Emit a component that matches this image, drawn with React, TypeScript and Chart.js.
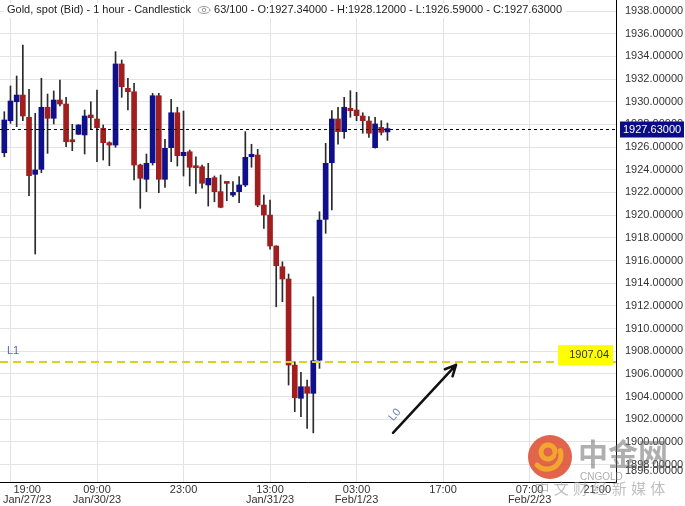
import React, { useEffect, useRef } from 'react';
import { Chart, registerables } from 'chart.js';

Chart.register(...registerables);

// ---- data ----
const openValues = [
  1925.50, 1928.33, 1930.00, 1930.59, 1928.63, 1923.60, 1924.04, 1929.51, 1928.54, 1930.15,
  1929.80, 1926.56, 1927.13, 1927.07, 1928.83, 1928.48, 1927.66, 1926.39, 1926.18, 1933.33,
  1931.18, 1930.88, 1924.42, 1923.16, 1924.62, 1930.53, 1923.16, 1925.95, 1929.03, 1925.24,
  1925.59, 1924.27, 1924.27, 1922.66, 1923.30, 1922.07, 1922.86, 1921.77, 1922.07, 1922.66,
  1925.15, 1925.30, 1920.89, 1920.01, 1917.28, 1915.45, 1914.37, 1906.78, 1903.85, 1904.87,
  1904.29, 1907.22, 1919.63, 1924.62, 1928.48, 1927.36, 1929.42, 1929.27, 1928.74, 1928.30,
  1925.95, 1927.74, 1927.34,
];
const highValues = [
  1929.12, 1931.39, 1932.27, 1935.00, 1931.10, 1928.98, 1932.07, 1930.68, 1930.95, 1931.92,
  1930.39, 1928.01, 1927.98, 1929.27, 1930.00, 1931.03, 1927.95, 1926.47, 1934.41, 1933.68,
  1932.07, 1931.62, 1924.50, 1925.39, 1930.74, 1930.74, 1926.69, 1930.21, 1929.51, 1929.18,
  1925.74, 1925.15, 1924.42, 1924.57, 1923.45, 1923.54, 1922.90, 1922.95, 1923.39, 1927.36,
  1926.25, 1925.80, 1921.77, 1921.33, 1917.30, 1915.89, 1914.81, 1907.07, 1906.14, 1905.46,
  1912.81, 1920.30, 1926.33, 1929.21, 1929.51, 1930.39, 1930.97, 1930.83, 1929.03, 1928.68,
  1928.63, 1928.33, 1928.12,
];
const lowValues = [
  1925.15, 1928.10, 1927.80, 1928.33, 1921.71, 1916.57, 1923.74, 1925.45, 1928.04, 1929.62,
  1926.03, 1925.68, 1927.10, 1925.39, 1927.57, 1924.71, 1924.86, 1924.36, 1925.98, 1930.39,
  1929.27, 1923.10, 1920.60, 1922.07, 1924.42, 1921.98, 1922.45, 1924.71, 1924.33, 1923.45,
  1922.57, 1921.92, 1922.37, 1920.80, 1921.18, 1920.65, 1921.27, 1921.63, 1921.10, 1922.51,
  1924.22, 1920.74, 1918.84, 1916.99, 1911.92, 1912.37, 1905.02, 1902.67, 1902.22, 1901.20,
  1900.80, 1906.49, 1918.40, 1920.45, 1926.25, 1926.77, 1928.63, 1928.33, 1927.22, 1926.86,
  1925.90, 1927.07, 1926.59,
];
const closeValues = [
  1928.39, 1930.06, 1930.59, 1928.74, 1923.48, 1923.98, 1929.51, 1928.54, 1930.15, 1929.80,
  1926.47, 1926.47, 1927.95, 1928.74, 1928.59, 1927.71, 1926.39, 1926.18, 1933.33, 1931.32,
  1930.88, 1924.42, 1923.25, 1924.57, 1930.53, 1923.16, 1925.89, 1929.03, 1925.24, 1925.54,
  1924.22, 1924.18, 1922.81, 1923.25, 1922.07, 1920.69, 1922.80, 1922.01, 1922.66, 1925.10,
  1925.36, 1920.89, 1920.01, 1917.28, 1915.54, 1914.37, 1906.78, 1903.90, 1904.87, 1904.29,
  1907.16, 1919.57, 1924.57, 1928.48, 1927.36, 1929.51, 1929.21, 1928.77, 1928.33, 1927.22,
  1928.04, 1927.30, 1927.63,
];

const xTickIndex = [1, 15, 29, 43, 57, 71, 85, 99];
const xTickTimes = ['19:00', '09:00', '23:00', '13:00', '03:00', '17:00', '07:00', '21:00'];
const xTickDates = ['Jan/27/23', 'Jan/30/23', '', 'Jan/31/23', 'Feb/1/23', '', 'Feb/2/23', ''];
const yTickValues = [
  1898, 1900, 1902, 1904, 1906, 1908, 1910, 1912, 1914, 1916, 1918,
  1920, 1922, 1924, 1926, 1928, 1930, 1932, 1934, 1936, 1938,
];
const extraBottomLabel = 1896;

const lastPrice = 1927.63;
const levelL1 = 1907.04;
const levelL1Text = '1907.04';
const arrowFrom = [62.9, 1900.8];
const arrowTo = [73.1, 1906.8];
const labelL0 = [63.2, 1902.4];

const X_MIN = -0.696;
const X_MAX = 98.98;
const Y_MIN = 1896.47;
const Y_MAX = 1938.97;

const FONT = '"Liberation Sans", Arial, sans-serif';
const UP = '#10108a';
const DOWN = '#a11e1e';

const overlayPlugin = {
  id: 'overlay',
  afterDraw(chart: any) {
    const { ctx, chartArea: ca } = chart;
    const x = chart.scales.x;
    const y = chart.scales.y;
    ctx.save();

    // last price dotted line
    const yp = Math.round(y.getPixelForValue(lastPrice)) + 0.5;
    ctx.strokeStyle = '#000';
    ctx.lineWidth = 1;
    ctx.setLineDash([3, 3]);
    ctx.beginPath();
    ctx.moveTo(ca.left, yp);
    ctx.lineTo(ca.right, yp);
    ctx.stroke();

    // L1 level line
    const yl = y.getPixelForValue(levelL1);
    ctx.strokeStyle = '#d8d226';
    ctx.lineWidth = 2;
    ctx.setLineDash([8, 5]);
    ctx.beginPath();
    ctx.moveTo(ca.left, yl);
    ctx.lineTo(ca.right, yl);
    ctx.stroke();
    ctx.setLineDash([]);

    // L1 label
    ctx.font = `11px ${FONT}`;
    ctx.fillStyle = '#4d6fa8';
    ctx.textAlign = 'left';
    ctx.textBaseline = 'middle';
    ctx.fillText('L1', 7, yl - 11);

    // yellow value tag
    ctx.fillStyle = '#ffff00';
    ctx.fillRect(ca.right - 58, yl - 17, 55, 20);
    ctx.fillStyle = '#333';
    ctx.textAlign = 'right';
    ctx.font = `11px ${FONT}`;
    ctx.fillText(levelL1Text, ca.right - 7, yl - 7);

    // arrow
    const ax0 = x.getPixelForValue(arrowFrom[0]);
    const ay0 = y.getPixelForValue(arrowFrom[1]);
    const ax1 = x.getPixelForValue(arrowTo[0]);
    const ay1 = y.getPixelForValue(arrowTo[1]);
    ctx.strokeStyle = '#111';
    ctx.lineWidth = 2.5;
    ctx.lineCap = 'round';
    ctx.beginPath();
    ctx.moveTo(ax0, ay0);
    ctx.lineTo(ax1, ay1);
    const ang = Math.atan2(ay1 - ay0, ax1 - ax0);
    const hl = 12;
    ctx.moveTo(ax1, ay1);
    ctx.lineTo(ax1 - hl * Math.cos(ang - 0.45), ay1 - hl * Math.sin(ang - 0.45));
    ctx.moveTo(ax1, ay1);
    ctx.lineTo(ax1 - hl * Math.cos(ang + 0.45), ay1 - hl * Math.sin(ang + 0.45));
    ctx.stroke();

    // L0 label (rotated)
    ctx.save();
    ctx.translate(x.getPixelForValue(labelL0[0]), y.getPixelForValue(labelL0[1]));
    ctx.rotate(-0.87);
    ctx.fillStyle = '#6a80b0';
    ctx.textAlign = 'center';
    ctx.font = `11px ${FONT}`;
    ctx.fillText('L0', 0, 0);
    ctx.restore();

    // price tag on the axis
    ctx.fillStyle = '#0b0b88';
    ctx.fillRect(ca.right + 4, yp - 8, 64, 16);
    ctx.fillStyle = '#fff';
    ctx.textAlign = 'left';
    ctx.font = `11px ${FONT}`;
    ctx.fillText(lastPrice.toFixed(5), ca.right + 7, yp);

    // extra clamped bottom axis label
    ctx.fillStyle = '#333';
    ctx.fillText(extraBottomLabel.toFixed(5), ca.right + 9, ca.bottom - 11);

    // x axis labels (clamped to the plot area)
    ctx.font = `11px ${FONT}`;
    ctx.fillStyle = '#333';
    ctx.textAlign = 'center';
    xTickIndex.forEach((idx, i) => {
      const px = x.getPixelForValue(idx);
      const w = Math.max(ctx.measureText(xTickTimes[i]).width, ctx.measureText(xTickDates[i]).width);
      const cx = Math.min(Math.max(px, 3 + w / 2), ca.right - 5 - w / 2);
      ctx.fillText(xTickTimes[i], cx, ca.bottom + 8);
      if (xTickDates[i]) ctx.fillText(xTickDates[i], cx, ca.bottom + 18);
    });

    // header
    const n = openValues.length - 1;
    const part1 = 'Gold, spot (Bid) - 1 hour - Candlestick';
    const part2 = `${openValues.length}/100 - O:${openValues[n].toFixed(5)} - H:${highValues[n].toFixed(5)} - L:${lowValues[n].toFixed(5)} - C:${closeValues[n].toFixed(5)}`;
    ctx.font = `11px ${FONT}`;
    ctx.textAlign = 'left';
    const w1 = ctx.measureText(part1).width;
    const w2 = ctx.measureText(part2).width;
    ctx.fillStyle = '#fff';
    ctx.fillRect(4, 3, w1 + w2 + 30, 15);
    ctx.fillStyle = '#222';
    ctx.fillText(part1, 7, 10);
    const ex = 7 + w1 + 13;
    ctx.strokeStyle = '#9a9a9a';
    ctx.lineWidth = 1;
    ctx.beginPath();
    ctx.ellipse(ex, 10, 6, 3.5, 0, 0, Math.PI * 2);
    ctx.stroke();
    ctx.beginPath();
    ctx.arc(ex, 10, 1.8, 0, Math.PI * 2);
    ctx.stroke();
    ctx.fillStyle = '#222';
    ctx.fillText(part2, ex + 10, 10);

    // watermark
    ctx.globalAlpha = 0.85;
    ctx.fillStyle = '#dc4a2c';
    ctx.beginPath();
    ctx.arc(550, 457, 22, 0, Math.PI * 2);
    ctx.fill();
    ctx.strokeStyle = '#f7b32b';
    ctx.lineWidth = 5;
    ctx.beginPath();
    ctx.arc(548, 452, 7, 0.2 * Math.PI, 2.0 * Math.PI);
    ctx.stroke();
    ctx.beginPath();
    ctx.arc(547, 455, 14, -0.1 * Math.PI, 0.75 * Math.PI);
    ctx.stroke();
    ctx.globalAlpha = 1;
    ctx.fillStyle = 'rgba(110,110,110,0.55)';
    ctx.font = `bold 30px "Noto Sans CJK SC"`;
    ctx.textAlign = 'left';
    ctx.textBaseline = 'middle';
    ctx.fillText('中金网', 578, 454);
    ctx.font = `10px ${FONT}`;
    ctx.fillStyle = 'rgba(140,140,140,0.7)';
    ctx.fillText('CNGOLD', 580, 477);
    ctx.font = `15px "Noto Sans CJK SC"`;
    ctx.fillStyle = 'rgba(150,150,150,0.6)';
    ctx.textAlign = 'center';
    const chars = '中文财经新媒体'.split('');
    chars.forEach((c, k) => ctx.fillText(c, 542 + 19.3 * k, 488));

    ctx.restore();
  },
};

export default function App() {
  const ref = useRef<HTMLCanvasElement>(null);
  useEffect(() => {
    const canvas = ref.current;
    if (!canvas) return;
    const chart = new Chart(canvas, {
      type: 'bar',
      data: {
        datasets: [
          {
            label: 'body',
            data: openValues.map((o, i) => ({ x: i, y: [o, closeValues[i]] })),
            backgroundColor: openValues.map((o, i) => (closeValues[i] >= o ? UP : DOWN)),
            grouped: false,
            barPercentage: 1,
            categoryPercentage: 1,
            maxBarThickness: 5,
            minBarLength: 2,
            borderWidth: 0,
          },
          {
            label: 'wick',
            data: lowValues.map((l, i) => ({ x: i, y: [l, highValues[i]] })),
            backgroundColor: '#2a2a2a',
            grouped: false,
            barPercentage: 1,
            categoryPercentage: 1,
            maxBarThickness: 1,
            borderWidth: 0,
          },
        ],
      } as any,
      options: {
        animation: false,
        responsive: false,
        maintainAspectRatio: false,
        layout: { padding: 0 },
        plugins: { legend: { display: false }, tooltip: { enabled: false } },
        scales: {
          x: {
            type: 'linear',
            min: X_MIN,
            max: X_MAX,
            offset: false,
            grid: { color: '#e3e3e3', drawTicks: false, offset: false },
            border: { display: true, color: '#000', width: 1 },
            ticks: { display: false },
            afterBuildTicks: (s: any) => {
              s.ticks = xTickIndex.filter((v) => v <= s.max).map((v) => ({ value: v }));
            },
            afterFit: (s: any) => {
              s.height = 24;
              s.paddingLeft = 0;
              s.paddingRight = 0;
            },
          },
          y: {
            type: 'linear',
            position: 'right',
            min: Y_MIN,
            max: Y_MAX,
            grid: { color: '#e3e3e3', drawTicks: false },
            border: { display: true, color: '#000', width: 1 },
            ticks: {
              autoSkip: false,
              padding: 9,
              color: '#333',
              font: { family: FONT, size: 11 },
              callback: (v: any) => Number(v).toFixed(5),
            },
            afterBuildTicks: (s: any) => {
              s.ticks = yTickValues.map((v) => ({ value: v }));
            },
            afterFit: (s: any) => {
              s.width = 69;
              s.paddingTop = 0;
              s.paddingBottom = 0;
            },
          },
        },
      } as any,
      plugins: [overlayPlugin],
    });
    return () => chart.destroy();
  }, []);

  return (
    <div style={{ position: 'absolute', left: 0, top: 0, width: 685, height: 506, background: '#fff' }}>
      <canvas ref={ref} width={685} height={506} style={{ display: 'block', width: 685, height: 506 }} />
    </div>
  );
}
